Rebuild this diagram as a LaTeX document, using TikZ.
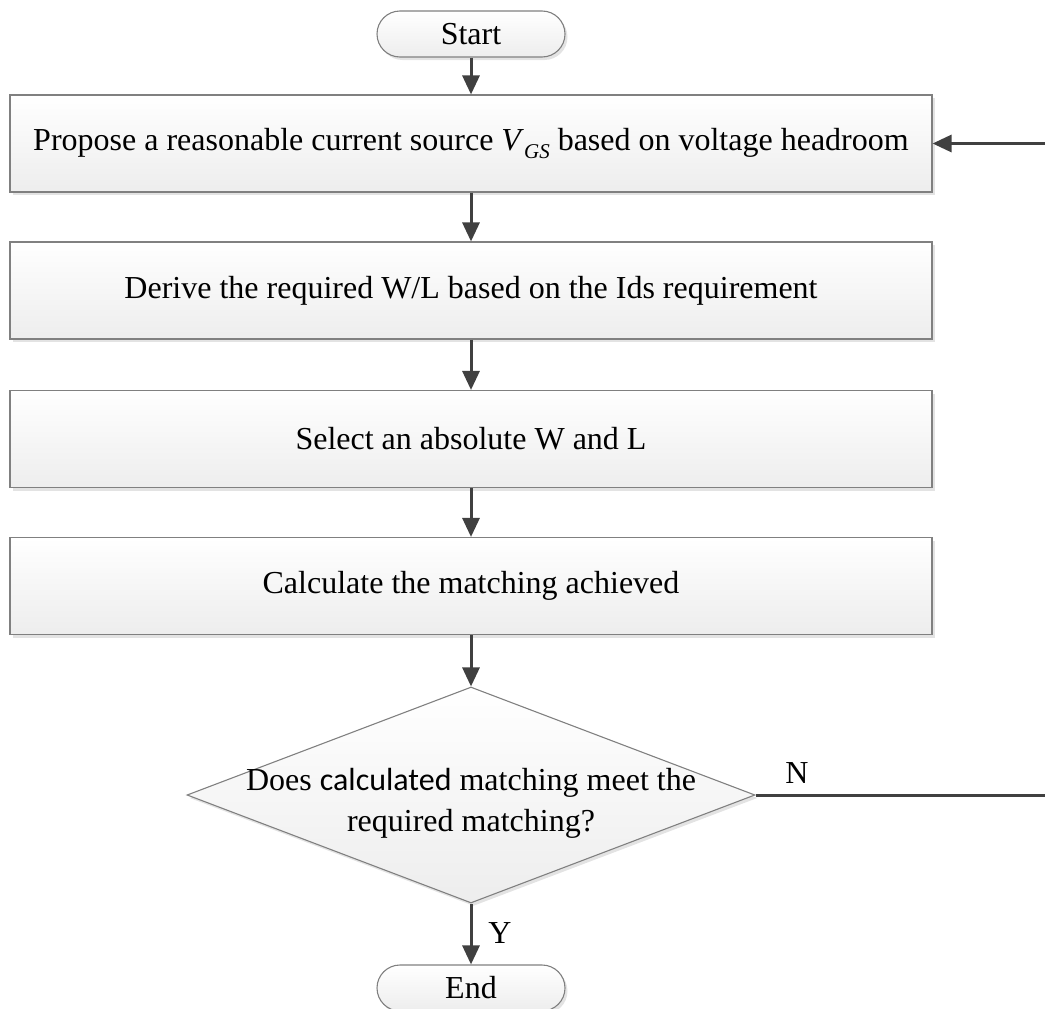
\documentclass[tikz,border=0pt]{standalone}
\usepackage{fontspec}
\setmainfont{Liberation Serif}
\newfontfamily\calibfont{Carlito}
\usetikzlibrary{shapes.geometric,arrows.meta,shadows}

\definecolor{linegray}{HTML}{404040}
\definecolor{edgegray}{HTML}{808080}

\tikzset{
  flowfont/.style={font=\fontsize{32}{41}\selectfont},
  basebox/.style={draw=edgegray, line width=1.1pt, top color=white, bottom color=gray!14,
    drop shadow={shadow xshift=2.5pt, shadow yshift=-3pt, opacity=0.22, fill=gray},
    flowfont, inner sep=0pt, align=center},
  procbox/.style={basebox, rectangle, minimum width=922pt, minimum height=97pt},
  termbox/.style={basebox, rectangle, rounded corners=23pt, minimum width=188pt, minimum height=46pt},
  decbox/.style={basebox, diamond, aspect=2.63, minimum width=568pt, minimum height=216pt},
  dectext/.style={flowfont, align=center, inner sep=0pt, yshift=-8pt},
  flowarrow/.style={draw=linegray, line width=3pt, -{Triangle[length=19pt,width=17pt]}},
  flowlabel/.style={flowfont, inner sep=0pt}
}

\begin{document}
\begin{tikzpicture}[x=1pt,y=-1pt]
  \useasboundingbox (0,0) rectangle (1045,1009);
  \clip (0,0) rectangle (1045,1009);

  % flow chart nodes
  \node[termbox] (start) at (471,34) {Start};
  \node[procbox] (propose) at (471,143.5)
    {Propose a reasonable current source \textit{V}\raisebox{-0.22em}{\fontsize{21}{21}\selectfont\textit{GS}} based on voltage headroom};
  \node[procbox] (derive) at (471,290.5) {Derive the required W/L based on the Ids requirement};
  \node[procbox] (select) at (471,439) {Select an absolute W and L};
  \node[procbox] (calc) at (471,586) {Calculate the matching achieved};
  % decision: the question is set as a centred label so the diamond keeps its size
  \node[decbox, label={[dectext]center:{Does {\calibfont calculated} matching meet the\\required matching?}}] (check) at (471,795) {};
  \node[termbox] (finish) at (471,988) {End};

  % return path beyond the right margin
  \coordinate (loopdown) at (1075,795);
  \coordinate (loopup) at (1075,143.5);

  % connectors
  \draw[flowarrow] (start) -- (propose);
  \draw[flowarrow] (propose) -- (derive);
  \draw[flowarrow] (derive) -- (select);
  \draw[flowarrow] (select) -- (calc);
  \draw[flowarrow] (calc) -- (check);
  \draw[flowarrow] (check) -- (finish);
  \draw[flowarrow] (check.east) -- (loopdown) -- (loopup) -- (propose.east);

  % branch labels
  \node[flowlabel] (nlabel) at (797,773) {N};
  \node[flowlabel] (ylabel) at (500,933) {Y};
\end{tikzpicture}
\end{document}
